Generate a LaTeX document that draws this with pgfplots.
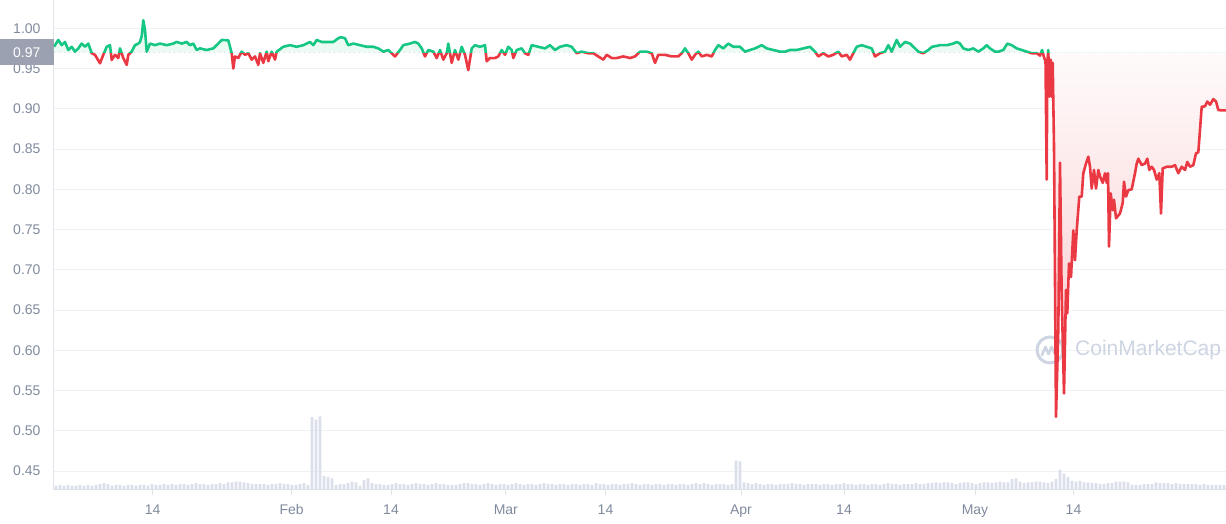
\documentclass[border=0pt]{standalone}
\usepackage{pgfplots}
\pgfplotsset{compat=1.18}
\usepackage{pgfplotstable}
\usepackage{fontspec}
\setmainfont{Liberation Sans}
\definecolor{cmcgreen}{RGB}{22,199,132}
\definecolor{cmcred}{RGB}{234,57,67}
\definecolor{ticktext}{RGB}{128,138,157}
\definecolor{gridc}{RGB}{239,242,245}
\definecolor{axisc}{RGB}{224,227,234}
\definecolor{volc}{RGB}{219,223,235}
\definecolor{boxc}{RGB}{155,161,176}
\definecolor{wm}{RGB}{205,212,226}
\definecolor{greenfill}{RGB}{236,250,244}
\definecolor{dotc}{RGB}{170,176,190}

\pgfplotstableread{
x y
54 .977
58.3 .9855
61.7 .979
65 .983
68.3 .973
71.7 .977
75 .971
78.3 .975
81.7 .981
85 .977
88.3 .981
91.7 .969
95 .967
100 .9565
103.3 .967
106.7 .977
110 .979
111.7 .9606
115 .967
118.3 .963
120 .975
123.3 .963
126.7 .9545
128.3 .967
131.7 .971
135 .979
138.3 .981
140 .983
141.7 .990
143.3 1.010
145 .998
146.7 .971
150 .981
155 .979
160 .981
166.7 .979
173.3 .981
176.7 .983
181.7 .981
186.7 .983
190 .979
193.3 .981
196.7 .973
200 .975
206.7 .973
213.3 .975
218.3 .981
221.7 .9855
228.3 .985
231.7 .969
233.3 .950
235 .965
238.3 .963
241.7 .971
245 .967
248.3 .969
251.7 .961
255 .965
258.3 .9545
260 .969
263.3 .957
266.7 .971
268.3 .959
271.7 .971
275 .961
276.7 .971
283.3 .977
290 .979
296.7 .977
303.3 .979
306.7 .981
310 .983
313.3 .979
316.7 .9855
321.7 .983
326.7 .983
333.3 .983
338.3 .9876
341 .989
345 .9876
348.3 .979
353.3 .981
360 .979
366.7 .977
373.3 .977
378.3 .975
383.3 .971
388.3 .973
395 .965
400 .973
403.3 .979
410 .981
415 .983
418.3 .981
421.7 .975
425 .965
428.3 .973
433.3 .971
436.7 .963
440 .973
443.3 .961
446.7 .969
448.3 .981
451.7 .957
455 .973
458.3 .961
461.7 .977
465 .967
468.3 .948
471.7 .975
475 .979
480 .977
485 .979
486.7 .959
490 .963
495 .963
498.3 .965
501.7 .973
505 .967
508.3 .977
511.7 .973
513.3 .963
516.7 .973
521.7 .975
525 .969
528.3 .967
531.7 .979
538.3 .977
545 .975
550 .979
555 .973
560 .977
566.7 .979
571.7 .977
576.7 .969
581.7 .971
588.3 .969
593.3 .969
598.3 .965
603.3 .961
606.7 .967
611.7 .963
616.7 .963
623.3 .965
630 .963
635 .965
640 .971
646.7 .971
651.7 .969
655 .957
658.3 .967
665 .967
671.7 .965
678.3 .965
681.7 .969
685 .975
688.3 .969
691.7 .961
695 .967
698.3 .971
701.7 .965
706.7 .967
711.7 .965
715 .973
718.3 .979
723.3 .975
728.3 .981
733.3 .977
740 .977
745 .971
750 .973
755 .975
761.7 .979
766.7 .975
773.3 .973
780 .971
785 .971
790 .973
796.7 .973
803.3 .975
810 .977
815 .971
818.3 .965
823.3 .969
828.3 .965
833.3 .967
838.3 .971
841.7 .965
846.7 .967
850 .961
853.3 .969
856.7 .977
861.7 .979
866.7 .977
871.7 .975
875 .965
880 .969
885 .971
888.3 .979
891.7 .971
896.7 .9855
900 .977
905 .983
910 .981
915 .975
918.3 .971
923.3 .969
928.3 .973
932 .977
940 .979
946.7 .979
953.3 .981
956.7 .983
960 .981
963.3 .975
968.3 .973
973.3 .975
978.3 .971
983.3 .975
986.7 .979
990 .975
995 .971
998.3 .971
1003.3 .973
1007.3 .981
1011.7 .979
1016.7 .975
1021.7 .973
1026.7 .971
1031.7 .969
1036.7 .969
1040 .966
1042 .973
1044.5 .962
1045.5 .960
1046.7 .812
1047.3 .957
1048.3 .973
1049.3 .915
1050.7 .961
1051.7 .915
1052.7 .957
1054 .853
1056 .5176
1058.3 .626
1060 .833
1061.7 .667
1064 .5465
1066 .675
1067.3 .646
1069 .708
1071 .691
1073.3 .749
1075 .712
1076.7 .749
1079.3 .791
1081.7 .791
1083.3 .820
1086 .832
1088.3 .8405
1090 .828
1091.7 .801
1094 .824
1096 .801
1098.3 .824
1100 .816
1102.7 .808
1105 .820
1106.7 .808
1108 .820
1109 .729
1110.7 .795
1112.7 .774
1114 .787
1116 .764
1120 .770
1122.7 .783
1124 .8095
1126 .791
1128.3 .799
1131.7 .800
1135 .820
1136.7 .832
1138.3 .838
1141.7 .830
1145 .832
1147.3 .838
1149.3 .824
1151.7 .828
1154 .824
1156.7 .812
1159.3 .820
1161 .770
1162.7 .826
1166.7 .828
1171.7 .828
1175 .830
1178.3 .820
1181.7 .828
1185 .824
1187.3 .834
1190 .828
1193.3 .830
1196 .8447
1198.3 .846
1200 .874
1201.7 .9026
1205 .903
1207.3 .909
1210 .905
1213.3 .912
1216 .909
1218.3 .8985
1221.7 .898
1226 .898
}\price

\pgfplotstableread{
x v
56 .432
60 .433
64 .432
68 .433
72 .432
76 .432
80 .433
84 .432
88 .433
92 .432
96 .433
100 .434
104 .435
108 .434
112 .432
116 .433
120 .433
124 .432
128 .433
132 .433
136 .432
140 .433
144 .433
148 .432
152 .434
156 .433
160 .433
164 .434
168 .433
172 .434
176 .433
180 .434
184 .434
188 .433
192 .434
196 .435
200 .434
204 .434
208 .433
212 .434
216 .434
220 .435
224 .434
228 .436
232 .436
236 .437
240 .437
244 .436
248 .435
252 .434
256 .434
260 .434
264 .434
268 .433
272 .434
276 .434
280 .435
284 .434
288 .434
292 .433
296 .433
300 .434
304 .435
308 .433
312 .517
316 .514
320 .518
324 .444
328 .443
332 .441
336 .433
340 .434
344 .434
348 .435
352 .437
356 .436
360 .432
364 .439
368 .441
372 .435
376 .434
380 .434
384 .433
388 .433
392 .434
396 .435
400 .434
404 .434
408 .433
412 .434
416 .435
420 .434
424 .434
428 .433
432 .434
436 .435
440 .434
444 .434
448 .433
452 .433
456 .433
460 .434
464 .435
468 .435
472 .434
476 .434
480 .433
484 .434
488 .435
492 .434
496 .433
500 .434
504 .434
508 .433
512 .434
516 .435
520 .434
524 .433
528 .434
532 .434
536 .433
540 .434
544 .435
548 .434
552 .434
556 .433
560 .434
564 .434
568 .433
572 .434
576 .434
580 .433
584 .434
588 .434
592 .433
596 .435
600 .434
604 .434
608 .433
612 .434
616 .434
620 .433
624 .434
628 .434
632 .435
636 .434
640 .433
644 .434
648 .434
652 .433
656 .434
660 .434
664 .433
668 .434
672 .434
676 .433
680 .434
684 .434
688 .433
692 .434
696 .435
700 .434
704 .435
708 .434
712 .433
716 .434
720 .434
724 .434
728 .433
732 .434
736 .463
740 .462
744 .436
748 .435
752 .434
756 .435
760 .434
764 .433
768 .434
772 .434
776 .433
780 .434
784 .434
788 .434
792 .435
796 .434
800 .434
804 .433
808 .434
812 .434
816 .434
820 .433
824 .434
828 .434
832 .433
836 .434
840 .434
844 .435
848 .434
852 .434
856 .433
860 .434
864 .434
868 .433
872 .434
876 .434
880 .433
884 .434
888 .435
892 .434
896 .434
900 .433
904 .434
908 .434
912 .434
916 .435
920 .434
924 .434
928 .435
932 .435
936 .436
940 .435
944 .436
948 .436
952 .435
956 .434
960 .435
964 .436
968 .436
972 .435
976 .434
980 .435
984 .436
988 .436
992 .435
996 .436
1000 .437
1004 .436
1008 .436
1012 .440
1016 .441
1020 .437
1024 .435
1028 .436
1032 .436
1036 .437
1040 .437
1044 .436
1048 .435
1052 .437
1056 .440
1060 .452
1064 .447
1068 .443
1072 .438
1076 .437
1080 .438
1084 .436
1088 .436
1092 .435
1096 .435
1100 .434
1104 .434
1108 .435
1112 .435
1116 .437
1120 .437
1124 .437
1128 .436
1132 .433
1136 .433
1140 .433
1144 .434
1148 .434
1152 .434
1156 .436
1160 .435
1164 .435
1168 .435
1172 .434
1176 .435
1180 .434
1184 .434
1188 .434
1192 .434
1196 .434
1200 .433
1204 .434
1208 .433
1212 .433
1216 .433
1220 .433
1224 .433
}\vol

\begin{document}
\begin{tikzpicture}
\begin{axis}[
  scale only axis, width=1172pt, height=490pt,
  xmin=54, xmax=1226, ymin=0.4266, ymax=1.0351,
  axis x line*=bottom, axis y line*=left,
  axis line style={axisc, line width=1pt},
  xtick={152.7,291.7,391,505.8,605.5,741,844,975,1073.5},
  xticklabels={14,Feb,14,Mar,14,Apr,14,May,14},
  ytick={0.45,0.5,0.55,0.6,0.65,0.7,0.75,0.8,0.85,0.9,0.95,1},
  /pgf/number format/fixed,
  /pgf/number format/fixed zerofill,
  /pgf/number format/precision=2,
  /pgf/number format/assume math mode=true,
  tick label style={font=\fontsize{14}{16}\selectfont, text=ticktext},
  tick align=outside, major tick length=5pt,
  xtick style={axisc, line width=1pt},
  ytick style={draw=none},
  xticklabel style={yshift=-6pt},
  yticklabel style={xshift=-5pt},
  ymajorgrids, major grid style={gridc, line width=1pt},
  extra y ticks={0.97},
  extra y tick labels={0.97},
  extra y tick style={
    yticklabel style={fill=boxc, text=white, minimum width=54pt, minimum height=26pt, inner sep=0pt, anchor=east, xshift=10pt},
    ymajorgrids=true,
    major grid style={dotc, line width=1pt, dash pattern=on 1pt off 4pt}},
  clip=true,
]
% volume bars
\addplot[ybar, bar width=2.6pt, bar shift=0pt, fill=volc, draw=none, forget plot] table[x=x, y=v] {\vol};

% watermark
\draw[wm, line width=3pt] (axis cs:1050,0.6005) circle[radius=13pt];
\draw[wm, line width=2.6pt, line join=round, line cap=round] (axis cs:1050,0.6005) ++(-8pt,-5pt) -- ++(3.5pt,8pt) -- ++(3pt,-7pt) -- ++(3pt,7pt) -- ++(3pt,-6pt) -- ++(3pt,2pt);
\node[anchor=west, text=wm, font=\fontsize{21}{24}\selectfont, inner sep=0pt] at (axis cs:1075,0.6005) {CoinMarketCap};

\begin{scope}
  \clip (axis cs:40,0.97) rectangle (axis cs:1240,0.40);
  \addplot[top color=white, bottom color=cmcred!28, draw=none, forget plot] table[x=x, y=y] {\price} -- (axis cs:1226,0.97) -- (axis cs:54,0.97) -- cycle;
  \addplot[cmcred, line width=2.6pt, line join=round, forget plot] table[x=x, y=y] {\price};
\end{scope}
\begin{scope}
  \clip (axis cs:40,0.97) rectangle (axis cs:1240,1.1);
  \addplot[fill=greenfill, draw=none, forget plot] table[x=x, y=y] {\price} -- (axis cs:1226,0.97) -- (axis cs:54,0.97) -- cycle;
  \addplot[cmcgreen, line width=2.6pt, line join=round, forget plot] table[x=x, y=y] {\price};
\end{scope}
\end{axis}
\pgfresetboundingbox
\path (current axis.south west) ++(-54pt,-34pt) rectangle (current axis.north east);
\end{tikzpicture}
\end{document}
